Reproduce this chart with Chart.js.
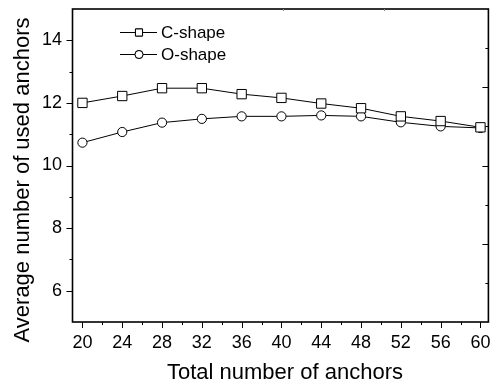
<!DOCTYPE html>
<html>
<head>
<meta charset="utf-8">
<script src="https://cdn.jsdelivr.net/npm/chart.js@4"></script>
<style>
  html, body { margin: 0; padding: 0; background: #fff; }
  #wrap { width: 496px; height: 383px; }
</style>
</head>
<body>
<div id="wrap"><canvas id="anchorChart"></canvas></div>
<script>
// data
const totalAnchors = [20, 24, 28, 32, 36, 40, 44, 48, 52, 56, 60];
const cShape = [12.0, 12.22, 12.47, 12.47, 12.28, 12.16, 11.98, 11.83, 11.57, 11.42, 11.22];
const oShape = [10.73, 11.07, 11.37, 11.49, 11.57, 11.57, 11.6, 11.57, 11.38, 11.25, 11.2];
const xTicks = [20, 24, 28, 32, 36, 40, 44, 48, 52, 56, 60];
const yTicks = [6, 8, 10, 12, 14];

const FONT = '"Liberation Sans", Arial, sans-serif';
const xTitle = 'Total number of anchors';
const yTitle = 'Average number of used anchors';

// draws the box, the tick marks, the axis titles and the legend
const framePlugin = {
    id: 'frame',
    afterDraw(chart) {
        const ctx = chart.ctx;
        const a = chart.chartArea;
        const xs = chart.scales.x;
        const ys = chart.scales.y;
        ctx.save();
        ctx.strokeStyle = '#000';
        ctx.lineWidth = 1.6;
        ctx.strokeRect(a.left, a.top, a.right - a.left, a.bottom - a.top);

        ctx.lineWidth = 1;
        ctx.beginPath();
        // bottom ticks (outward), major every 4, minor every 2
        for (let v = 20; v <= 60; v += 2) {
            const px = Math.round(xs.getPixelForValue(v)) + 0.5;
            const len = (v % 4 === 0) ? 6 : 3;
            ctx.moveTo(px, a.bottom);
            ctx.lineTo(px, a.bottom + len);
        }
        // left ticks (outward), major every 2, minor every 1
        for (let v = 6; v <= 14; v += 1) {
            const py = Math.round(ys.getPixelForValue(v)) + 0.5;
            const len = (v % 2 === 0) ? 6 : 3;
            ctx.moveTo(a.left, py);
            ctx.lineTo(a.left - len, py);
        }
        // right ticks (inward)
        const h = a.bottom - a.top;
        for (let i = 1; i < 8; i++) {
            const py = Math.round(a.top + h * i / 8) + 0.5;
            const len = (i % 2 === 0) ? 6 : 3;
            ctx.moveTo(a.right, py);
            ctx.lineTo(a.right - len, py);
        }
        ctx.stroke();

        // faint top ticks
        ctx.strokeStyle = '#888';
        ctx.beginPath();
        const w = a.right - a.left;
        for (let i = 1; i <= 3; i++) {
            const px = Math.round(a.left + w * (0.26 + 0.245 * (i - 1)) + 0.245 * w) + 0.5;
            if (px < a.right - 3) {
                ctx.moveTo(px, a.top);
                ctx.lineTo(px, a.top + 2);
            }
        }
        ctx.stroke();
        ctx.strokeStyle = '#000';

        // axis titles
        ctx.fillStyle = '#000';
        ctx.font = '22px ' + FONT;
        ctx.textAlign = 'center';
        ctx.textBaseline = 'alphabetic';
        ctx.fillText(xTitle, 285, 379);
        ctx.save();
        ctx.translate(29, 180);
        ctx.rotate(-Math.PI / 2);
        ctx.fillText(yTitle, 0, 0);
        ctx.restore();

        // legend
        const entries = [
            { label: 'C-shape', style: 'rect', r: 5 },
            { label: 'O-shape', style: 'circle', r: 4 }
        ];
        ctx.font = '17px ' + FONT;
        ctx.textAlign = 'left';
        ctx.textBaseline = 'middle';
        entries.forEach((e, i) => {
            const y = 32 + i * 22;
            const x0 = 120;
            ctx.beginPath();
            ctx.moveTo(x0, y + 0.5);
            ctx.lineTo(x0 + 37, y + 0.5);
            ctx.stroke();
            Chart.helpers.drawPoint(ctx, {
                pointStyle: e.style,
                radius: e.r,
                borderWidth: 1
            }, x0 + 19, y + 0.5);
            ctx.fillStyle = '#fff';
            ctx.fill();
            ctx.stroke();
            ctx.fillStyle = '#000';
            ctx.fillText(e.label, x0 + 41, y + 1);
        });
        ctx.restore();
    }
};

new Chart(document.getElementById('anchorChart'), {
    type: 'line',
    data: {
        labels: totalAnchors,
        datasets: [
            {
                label: 'C-shape',
                data: totalAnchors.map((x, i) => ({ x: x, y: cShape[i] })),
                borderColor: '#000',
                borderWidth: 1,
                pointStyle: 'rect',
                pointRadius: 6.6,
                pointBackgroundColor: '#fff',
                pointBorderColor: '#000',
                pointBorderWidth: 1
            },
            {
                label: 'O-shape',
                data: totalAnchors.map((x, i) => ({ x: x, y: oShape[i] })),
                borderColor: '#000',
                borderWidth: 1,
                pointStyle: 'circle',
                pointRadius: 4.6,
                pointBackgroundColor: '#fff',
                pointBorderColor: '#000',
                pointBorderWidth: 1
            }
        ]
    },
    options: {
        responsive: true,
        maintainAspectRatio: false,
        animation: false,
        layout: { padding: { top: 9, right: 3, left: 0, bottom: 0 } },
        plugins: {
            legend: { display: false },
            tooltip: { enabled: false }
        },
        scales: {
            x: {
                type: 'linear',
                min: 19,
                max: 60.8,
                afterBuildTicks: (scale) => { scale.ticks = xTicks.map(v => ({ value: v })); },
                afterFit: (scale) => {
                    scale.height = 61;
                    scale.paddingLeft = 0;
                    scale.paddingRight = 0;
                },
                grid: { display: false, drawTicks: false },
                border: { display: false },
                ticks: {
                    color: '#000',
                    font: { family: FONT, size: 18 },
                    padding: 10,
                    maxRotation: 0,
                    autoSkip: false
                }
            },
            y: {
                min: 5,
                max: 15,
                afterBuildTicks: (scale) => { scale.ticks = yTicks.map(v => ({ value: v })); },
                afterFit: (scale) => {
                    scale.width = 72.5;
                    scale.paddingTop = 0;
                    scale.paddingBottom = 0;
                },
                grid: { display: false, drawTicks: false },
                border: { display: false },
                ticks: {
                    color: '#000',
                    font: { family: FONT, size: 18 },
                    padding: 10.5
                }
            }
        }
    },
    plugins: [framePlugin]
});
</script>
</body>
</html>
